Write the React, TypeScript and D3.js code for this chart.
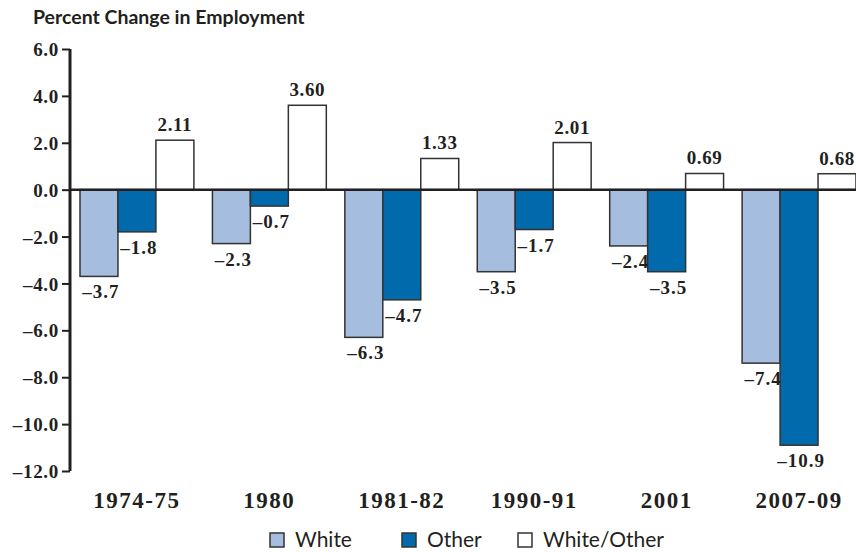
import React, { useEffect, useRef } from 'react';
import * as d3 from 'd3';

const periods = ['1974-75', '1980', '1981-82', '1990-91', '2001', '2007-09'];
const white = [-3.7, -2.3, -6.3, -3.5, -2.4, -7.4];
const other = [-1.8, -0.7, -4.7, -1.7, -3.5, -10.9];
const ratio = [2.11, 3.6, 1.33, 2.01, 0.69, 0.68];
const seriesNames = ['White', 'Other', 'White/Other'];
const seriesColors = ['#a5bddf', '#006aad', '#ffffff'];
const yTicks = [6, 4, 2, 0, -2, -4, -6, -8, -10, -12];

const serif = '"Liberation Serif", "Times New Roman", serif';
const sans = 'Lato, "Open Sans", sans-serif';
const ink = '#231f20';

function fmt(v: number, digits: number) {
  const s = Math.abs(v).toFixed(digits);
  return v < 0 ? '\u2013' + s : s;
}

function App() {
  const ref = useRef<SVGSVGElement>(null);

  useEffect(() => {
    const svg = d3.select(ref.current);
    svg.selectAll('*').remove();

    const axisX = 70;
    const y = d3.scaleLinear().domain([-12, 6]).range([471, 49]);

    const x0 = d3.scaleBand().domain(periods).range([80, 856]).paddingInner(0.14).paddingOuter(0);
    const x1 = d3.scaleBand().domain(seriesNames).range([0, x0.bandwidth()]);

    const rows = periods.map((p, i) => ({ period: p, values: [white[i], other[i], ratio[i]] }));

    svg.append('text')
      .attr('x', 33).attr('y', 24)
      .style('font-family', sans).style('font-weight', 'bold').style('font-size', '19.5px')
      .attr('fill', ink)
      .text('Percent Change in Employment');

    const g = svg.append('g');

    const groups = g.selectAll('g.grp').data(rows).join('g')
      .attr('class', 'grp')
      .attr('transform', d => `translate(${x0(d.period)},0)`);

    groups.selectAll('rect')
      .data(d => d.values.map((v, k) => ({ v, k })))
      .join('rect')
      .attr('x', d => x1(seriesNames[d.k])!)
      .attr('width', x1.bandwidth())
      .attr('y', d => y(Math.max(0, d.v)))
      .attr('height', d => Math.abs(y(d.v) - y(0)))
      .attr('fill', d => seriesColors[d.k])
      .attr('stroke', '#333')
      .attr('stroke-width', 1.5);

    groups.selectAll('text.val')
      .data(d => d.values.map((v, k) => ({ v, k })))
      .join('text')
      .attr('class', 'val')
      .attr('x', d => x1(seriesNames[d.k])! + x1.bandwidth() / 2 + (d.k === 2 ? 0 : 2))
      .attr('y', d => (d.v < 0 ? y(d.v) + 22 : y(d.v) - 9))
      .attr('text-anchor', 'middle')
      .style('font-family', serif).style('font-weight', 'bold').style('font-size', '19px')
      .style('letter-spacing', d => (d.k === 2 ? '0.6px' : '1px'))
      .attr('fill', ink)
      .text(d => fmt(d.v, d.k === 2 ? 2 : 1));

    // zero line
    g.append('line')
      .attr('x1', axisX).attr('x2', 856)
      .attr('y1', y(0)).attr('y2', y(0))
      .attr('stroke', ink).attr('stroke-width', 2.5);

    // y axis
    const yAxis = g.append('g').attr('transform', `translate(${axisX},0)`)
      .call(d3.axisLeft(y).tickValues(yTicks).tickSize(8).tickPadding(3).tickFormat(d => fmt(+d, 1)));
    yAxis.select('.domain').attr('stroke', ink).attr('stroke-width', 3).attr('d', `M0,${y(6)}V${y(-12)}`);
    yAxis.selectAll('.tick line').attr('stroke', ink).attr('stroke-width', 2);
    yAxis.selectAll('.tick text')
      .attr('fill', ink).attr('dy', '0.35em')
      .style('font-family', serif).style('font-weight', 'bold').style('font-size', '19px')
      .style('letter-spacing', '0.7px');

    // category labels
    g.selectAll('text.cat').data(periods).join('text')
      .attr('class', 'cat')
      .attr('x', d => x0(d)! + x0.bandwidth() / 2)
      .attr('y', 508)
      .attr('text-anchor', 'middle')
      .style('font-family', serif).style('font-weight', 'bold').style('font-size', '23px')
      .style('letter-spacing', '1.5px')
      .attr('fill', ink)
      .text(d => d);

    // legend
    const legendX = [270, 402, 518];
    const leg = svg.append('g');
    const items = leg.selectAll('g').data(seriesNames).join('g')
      .attr('transform', (d, i) => `translate(${legendX[i]},533)`);
    items.append('rect')
      .attr('width', 14).attr('height', 14)
      .attr('fill', (d, i) => seriesColors[i])
      .attr('stroke', '#333').attr('stroke-width', 1.5);
    items.append('text')
      .attr('x', 25).attr('y', 14)
      .style('font-family', sans).style('font-size', '21px')
      .attr('fill', ink)
      .text(d => d);
  }, []);

  return (
    <svg ref={ref} width={856} height={552} style={{ position: 'absolute', left: 0, top: 0, background: '#fff' }} />
  );
}

export default App;
